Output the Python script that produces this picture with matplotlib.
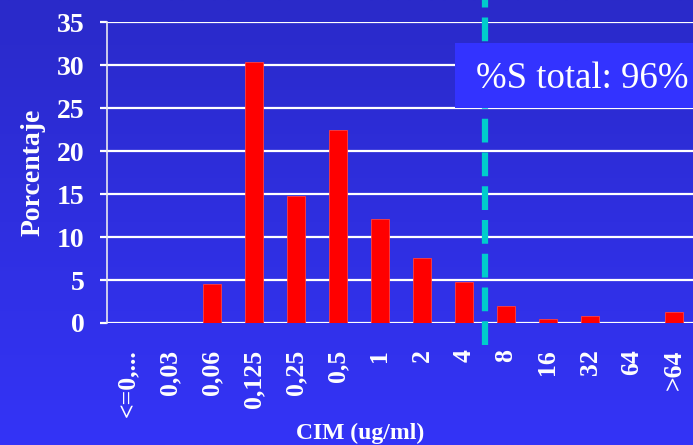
import numpy as np
import matplotlib
matplotlib.use("Agg")
import matplotlib.pyplot as plt
from matplotlib.patches import Rectangle
from matplotlib.colors import LinearSegmentedColormap

# MIC distribution (percentage of isolates per concentration)
cim_labels = ["<=0,...", "0,03", "0,06", "0,125", "0,25", "0,5", "1", "2", "4",
              "8", "16", "32", "64", ">64"]
porcentaje = [0, 0, 4.5, 30.4, 14.8, 22.4, 12.1, 7.6, 4.8, 2.0, 0.5, 0.8, 0, 1.3]
corte = 8.5          # breakpoint between 4 and 8
texto_s = "%S total: 96%"

plt.rcParams['font.family'] = ['Liberation Serif', 'DejaVu Serif']

fig = plt.figure(figsize=(6.93, 4.45), dpi=100)

# blue gradient background
bg = fig.add_axes([0, 0, 1, 1], zorder=-10)
grad = np.linspace(0, 1, 256).reshape(-1, 1)
cmap = LinearSegmentedColormap.from_list("fondo", ["#2a2ac9", "#3434f7"])
bg.imshow(grad, aspect="auto", cmap=cmap, extent=[0, 1, 0, 1])
bg.axis("off")

ax = fig.add_axes([107/693, 1 - 323/445, 588/693, 301/445])
ax.patch.set_alpha(0)

x = np.arange(len(cim_labels))
ax.bar(x, porcentaje, width=0.45, color="#ff0000", edgecolor="#ff4040",
       linewidth=0.6, zorder=3)

ax.set_xlim(-0.5, len(cim_labels) - 0.5)
ax.set_ylim(0, 35)
ax.set_yticks(range(0, 36, 5))
ax.yaxis.grid(True, color="white", linewidth=1.6, zorder=1)
ax.set_axisbelow(True)

for s in ["top", "right", "bottom"]:
    ax.spines[s].set_visible(False)
ax.spines["left"].set_color("#e8e8f0")
ax.spines["left"].set_linewidth(1.2)

ax.tick_params(axis="y", colors="white", length=5, width=1.6, pad=11,
               labelsize=20)
ax.tick_params(axis="x", length=0, pad=19, labelsize=18.5, colors="white")
ax.set_xticks(x)
ax.set_xticklabels(cim_labels, rotation=90, fontweight="bold")
for lbl in ax.get_yticklabels():
    lbl.set_fontweight("bold")

ax.set_ylabel("Porcentaje", color="white", fontsize=20, fontweight="bold",
              labelpad=8)
ax.set_xlabel("CIM (ug/ml)", color="white", fontsize=17, fontweight="bold",
              labelpad=6)
ax.xaxis.set_label_coords(0.43, -0.33)

# breakpoint line
ax.plot([corte, corte], [-2.6, 38], color="#00cccc", linewidth=4.5,
        linestyle=(0, (3.8, 1.6)), clip_on=False, zorder=4)

# summary box
fig.patches.append(Rectangle((455/693, 1 - 108/445), 240/693, 65/445,
                             transform=fig.transFigure, facecolor="#3333ff",
                             edgecolor="none", zorder=5))
fig.text(476/693, 1 - 88/445, texto_s, color="white", fontsize=26.5,
         ha="left", va="baseline", zorder=6)

fig.savefig("out.png", dpi=100)
